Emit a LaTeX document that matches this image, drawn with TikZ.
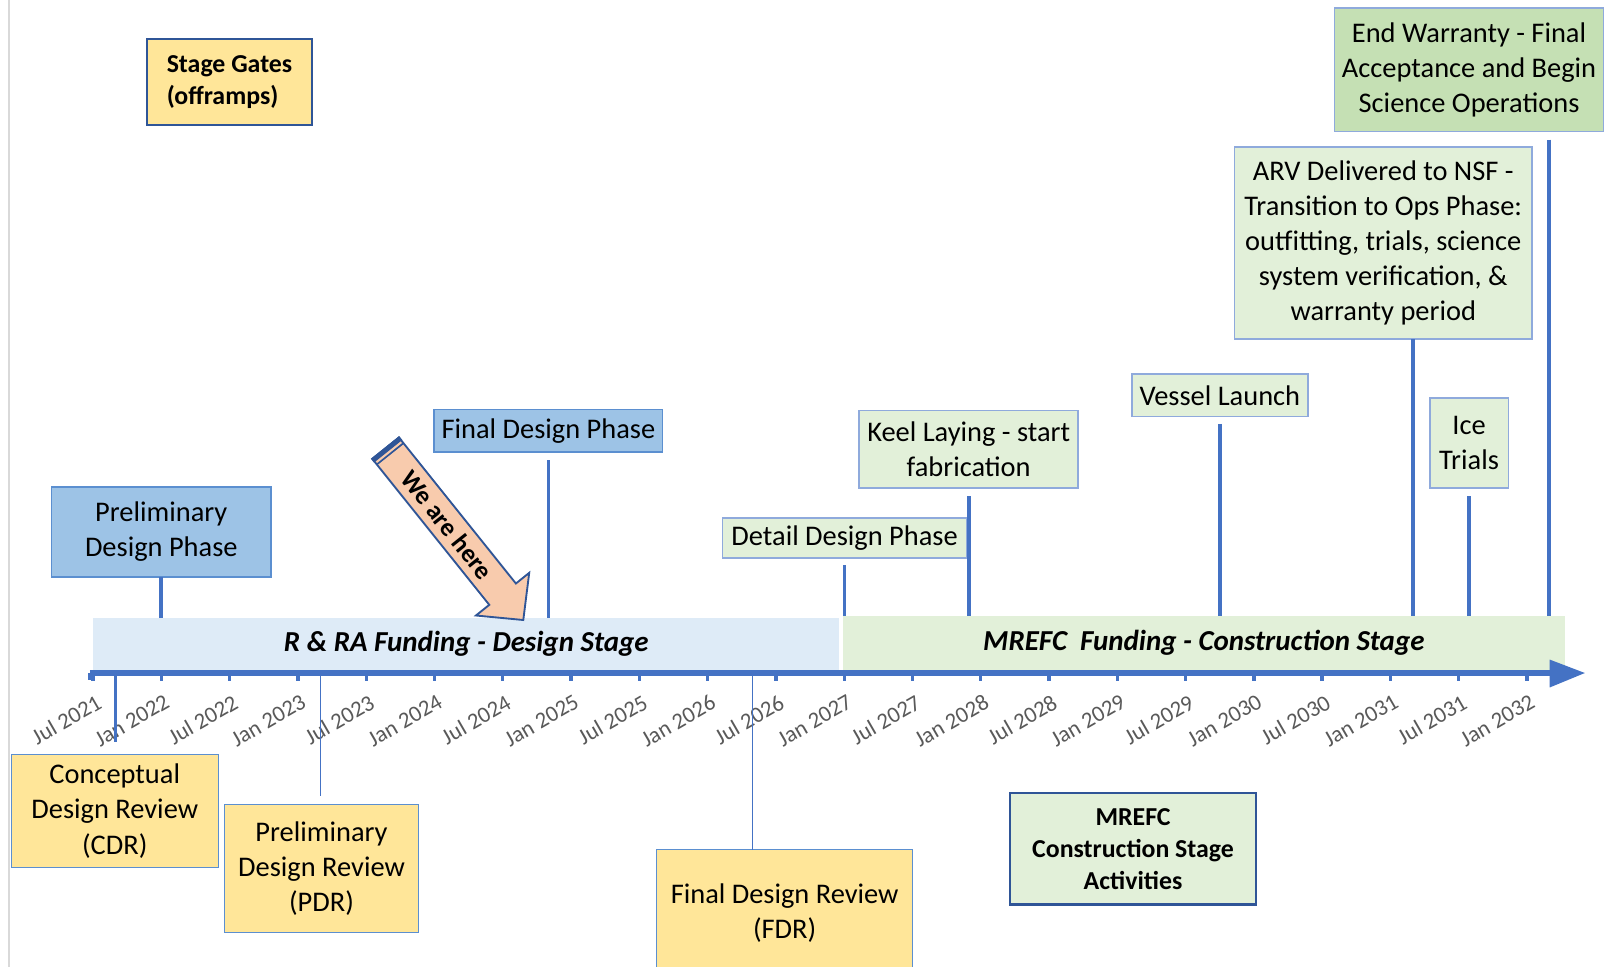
\documentclass[tikz,border=0pt]{standalone}
\usepackage{fontspec}
\setmainfont{Carlito}
\definecolor{axisblue}{HTML}{4472C4}
\definecolor{darkblue}{HTML}{2F5597}
\definecolor{boxyellow}{HTML}{FFE699}
\definecolor{boxgreen}{HTML}{E2F0D9}
\definecolor{boxgreendk}{HTML}{C5E0B4}
\definecolor{bandblue}{HTML}{DEEBF7}
\definecolor{bandgreen}{HTML}{E2F0D9}
\definecolor{boxblue}{HTML}{9DC3E6}
\definecolor{peach}{HTML}{F8CBAD}
\definecolor{labelgray}{HTML}{595959}
\definecolor{edgeblue}{HTML}{8FAADC}
\definecolor{edgeblue2}{HTML}{5B8FD0}
\definecolor{leftgray}{HTML}{D9D9D9}
\newcommand\pxu{0.5pt}
\begin{document}
\begin{tikzpicture}[x=0.5pt,y=-0.5pt,
  every node/.style={inner sep=0pt, outer sep=0pt},
  txt/.style={font=\fontsize{13.75}{17}\selectfont, align=center},
  boldtxt/.style={font=\fontsize{12.5}{15.5}\selectfont\bfseries, align=center},
  bandtxt/.style={font=\fontsize{14}{17}\selectfont\bfseries\itshape},
  greenbox/.style={draw=edgeblue, line width=0.75pt, fill=boxgreen, txt},
  bluebox/.style={draw=edgeblue2, line width=0.75pt, fill=boxblue, txt},
  yellowbox/.style={draw=edgeblue2, line width=0.6pt, fill=boxyellow, txt},
  gatebox/.style={draw=darkblue, line width=1.1pt, boldtxt},
  conn/.style={draw=axisblue, line width=1.8pt},
  thinconn/.style={draw=axisblue, line width=0.8pt},
  tickmark/.style={draw=axisblue, line width=1.6pt},
  datelbl/.style={font=\fontsize{11}{13}\selectfont, text=labelgray, rotate=30},
]
\useasboundingbox (0,0) rectangle (1568,935);
\fill[white] (0,0) rectangle (1568,935);
\draw[leftgray, line width=0.7pt] (8.5,0) -- (8.5,935);

% funding bands
\node[fill=bandblue, minimum width=722*\pxu, minimum height=50*\pxu, bandtxt] (bandA) at (451,623) {R \& RA Funding - Design Stage};
\node[fill=bandgreen, minimum width=699*\pxu, minimum height=52*\pxu, bandtxt] (bandB) at (1164.5,622) {MREFC\ \ Funding - Construction Stage};

% axis
\coordinate (axisL) at (87,651);
\coordinate (axisE) at (1500,651);
\coordinate (axisT) at (1533,651);
\draw[axisblue, line width=2.6pt] (axisL) -- (axisE);
\fill[axisblue] (1499,638) -- (axisT) -- (1499,665) -- cycle;
\draw[tickmark] (87,651) -- (87,658);
\foreach \k in {0,...,21}{
  \pgfmathsetmacro{\tx}{90+66.05*\k}
  \pgfmathtruncatemacro{\yr}{2021+int((\k+1)/2)}
  \pgfmathtruncatemacro{\isodd}{mod(\k,2)}
  \ifnum\isodd=0 \def\mon{Jul}\else\def\mon{Jan}\fi
  \draw[tickmark] (\tx,651) -- (\tx,659);
  \node[datelbl, anchor=north east] (d\k) at (\tx+2,671) {\mon\ \yr};
}

% stage gates legend
\node[gatebox, fill=boxyellow, minimum width=160*\pxu, minimum height=83*\pxu, align=left] (stage) at (222,79.5) {Stage Gates\\(offramps)};
\node[gatebox, fill=boxgreen, minimum width=238*\pxu, minimum height=108*\pxu] (mrefc) at (1096,821) {MREFC\\Construction Stage\\Activities};

% upper boxes
\node[bluebox, minimum width=212*\pxu, minimum height=87*\pxu] (prelim) at (156,514.5) {Preliminary\\Design Phase};
\node[bluebox, minimum width=221*\pxu, minimum height=41*\pxu] (finaldp) at (530.5,416.5) {Final Design Phase};
\node[greenbox, minimum width=236*\pxu, minimum height=39*\pxu] (detail) at (817,520.5) {Detail Design Phase};
\node[greenbox, minimum width=212*\pxu, minimum height=75*\pxu] (keel) at (937,434.5) {Keel Laying - start\\fabrication};
\node[greenbox, minimum width=170*\pxu, minimum height=41*\pxu] (vessel) at (1180,382.5) {Vessel Launch};
\node[greenbox, minimum width=76*\pxu, minimum height=87*\pxu] (ice) at (1421,428.5) {Ice\\Trials};
\node[greenbox, minimum width=288*\pxu, minimum height=186*\pxu] (arv) at (1338,235) {ARV Delivered to NSF -\\Transition to Ops Phase:\\outfitting, trials, science\\system verification, \&\\warranty period};
\node[greenbox, fill=boxgreendk, minimum width=260*\pxu, minimum height=119*\pxu] (endw) at (1421,67.5) {End Warranty - Final\\Acceptance and Begin\\Science Operations};

% upper connectors
\coordinate (arvx) at (1367,0);
\coordinate (endwx) at (1498,0);
\draw[conn] (prelim.south) -- (prelim.south |- bandA.north);
\draw[conn, shorten <=4pt] (finaldp.south) -- (finaldp.south |- bandA.north);
\draw[conn, shorten <=3.5pt] (detail.south) -- (detail.south |- bandB.north);
\draw[conn, shorten <=4pt] (keel.south) -- (keel.south |- bandB.north);
\draw[conn, shorten <=3.5pt] (vessel.south) -- (vessel.south |- bandB.north);
\draw[conn, shorten <=4pt] (ice.south) -- (ice.south |- bandB.north);
\draw[conn] (arv.south -| arvx) -- (bandB.north -| arvx);
\draw[conn, shorten <=4pt] (endw.south -| endwx) -- (bandB.north -| endwx);

% lower boxes
\node[yellowbox, minimum width=200*\pxu, minimum height=109*\pxu] (cdr) at (111,784.5) {Conceptual\\Design Review\\(CDR)};
\node[yellowbox, minimum width=188*\pxu, minimum height=124*\pxu] (pdr) at (311,840) {Preliminary\\Design Review\\(PDR)};
\node[txt, fill=boxyellow, minimum width=248*\pxu, minimum height=122*\pxu] (fdr) at (759,883) {Final Design Review\\(FDR)};
\draw[edgeblue2, line width=0.6pt] (fdr.south west) -- (fdr.north west) -- (fdr.north east) -- (fdr.south east);

% lower connectors
\coordinate (cdrend) at (112,718);
\coordinate (pdrend) at (310,770);
\coordinate (fdrx) at (728,0);
\draw[axisblue, line width=1.5pt] (cdrend |- axisL) -- (cdrend);
\draw[thinconn] (pdrend |- axisL) -- (pdrend);
\draw[thinconn] (fdrx |- axisL) -- (fdrx |- fdr.north);

% we are here arrow
\begin{scope}[shift={(373,433.5)}, rotate=-51.3]
  \filldraw[fill=peach, draw=darkblue, line width=0.9pt, line join=miter]
    (0,-16.5) -- (181,-16.5) -- (181,-33) -- (213,0) -- (181,33) -- (181,16.5) -- (0,16.5) -- cycle;
  \draw[darkblue, line width=2.4pt] (1.5,-17.5) -- (1.5,17.5);
  \draw[darkblue, line width=0.8pt] (7,-16.5) -- (7,16.5);
  \node[boldtxt, rotate=-51.3] (wehere) at (95,0) {We are here};
\end{scope}
\end{tikzpicture}
\end{document}
